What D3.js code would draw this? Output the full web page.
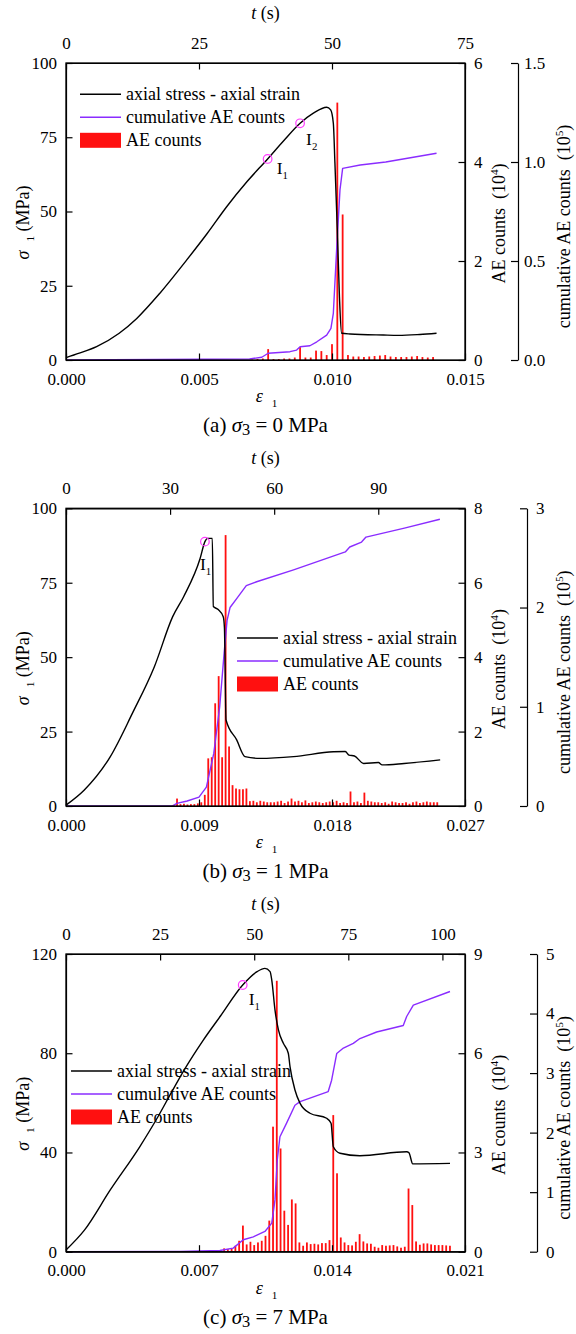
<!DOCTYPE html>
<html>
<head>
<meta charset="utf-8">
<script src="https://cdn.jsdelivr.net/npm/d3@7"></script>
<style>
body { margin: 0; background: #fff; }
svg { display: block; }
text { font-family: "Liberation Serif", "Times New Roman", serif; fill: #000; white-space: pre; }
</style>
</head>
<body>
<svg width="576" height="1334"></svg>
<script>
// ---------- (a) sigma3 = 0 MPa ----------
const strainA = [0, 0.0005, 0.00115, 0.002, 0.00266, 0.00353, 0.00454, 0.0053, 0.00604, 0.0068, 0.00758, 0.0082, 0.0088, 0.0093, 0.0098, 0.00995, 0.01005, 0.01011, 0.0102, 0.01028, 0.01036, 0.01068, 0.01193, 0.0125, 0.0133, 0.01393];
const stressA = [0.8, 2.3, 4.5, 9, 14, 22.5, 33.7, 42.5, 51.6, 60, 67.7, 74, 79.7, 83.1, 85.1, 84.2, 79.7, 66.3, 43.8, 21.3, 9, 8.75, 8.4, 8.3, 8.6, 9];
const cumStrainA = [0, 0.0069, 0.00736, 0.0076, 0.00842, 0.00867, 0.0088, 0.00917, 0.00943, 0.0098, 0.00996, 0.01005, 0.01018, 0.0103, 0.0104, 0.01106, 0.01202, 0.01393];
const cumA = [0, 0.005, 0.014, 0.034, 0.042, 0.05, 0.067, 0.072, 0.092, 0.126, 0.16, 0.236, 0.572, 0.859, 0.968, 0.985, 1.0, 1.044];
const aeTimeA = [35, 36, 37, 38, 39, 40, 41, 42, 43, 44, 45, 46, 47, 48, 49, 50, 51, 52, 53, 54, 55, 56, 57, 58, 59, 60, 61, 62, 63, 64, 65, 66, 67, 68, 69];
const aeCountA = [0.01, 0.02, 0.03, 0.22, 0.02, 0.02, 0.03, 0.03, 0.05, 0.26, 0.05, 0.05, 0.19, 0.18, 0.1, 0.32, 5.2, 2.94, 0.1, 0.07, 0.07, 0.06, 0.07, 0.08, 0.09, 0.1, 0.07, 0.06, 0.06, 0.06, 0.07, 0.08, 0.06, 0.05, 0.06];
const markStrainA = [0.00758, 0.0088];
const markStressA = [67.7, 79.7];
const markNameA = ["1", "2"];

// ---------- (b) sigma3 = 1 MPa ----------
const strainB = [0, 0.00124, 0.003, 0.00449, 0.00598, 0.00722, 0.00796, 0.00908, 0.0094, 0.00958, 0.0099, 0.00997, 0.0103, 0.01064, 0.01072, 0.01083, 0.01155, 0.01211, 0.01313, 0.0154, 0.01809, 0.0189, 0.01915, 0.01952, 0.02014, 0.02114, 0.02139, 0.02288, 0.02532];
const stressB = [0.3, 5.4, 16.6, 31.1, 46.8, 63.6, 70.3, 83.2, 88.8, 89.9, 89.9, 67, 66, 63.6, 60, 28.9, 22.2, 16.6, 16, 16.6, 18.2, 18.3, 17.1, 16.8, 14.3, 14.6, 13.8, 14.3, 15.5];
const cumStrainB = [0, 0.0072, 0.0075, 0.0082, 0.009, 0.0095, 0.01, 0.0104, 0.0107, 0.0109, 0.0111, 0.0116, 0.0122, 0.0129, 0.0154, 0.0189, 0.0192, 0.02, 0.0203, 0.0229, 0.0253];
const cumB = [0, 0, 0.027, 0.05, 0.09, 0.19, 0.53, 1.0, 1.54, 1.87, 2.0, 2.1, 2.22, 2.26, 2.38, 2.56, 2.61, 2.66, 2.71, 2.8, 2.89];
const aeTimeB = [31, 32, 33, 34, 35, 36, 37, 38, 39, 40, 41, 42, 43, 44, 45, 46, 47, 48, 49, 50, 51, 52, 53, 54, 55, 56, 57, 58, 59, 60, 61, 62, 63, 64, 65, 66, 67, 68, 69, 70, 71, 72, 73, 74, 75, 76, 77, 78, 79, 80, 81, 82, 83, 84, 85, 86, 87, 88, 89, 90, 91, 92, 93, 94, 95, 96, 97, 98, 99, 100, 101, 102, 103, 104, 105, 106, 107];
const aeCountB = [0.03, 0.2, 0.05, 0.06, 0.04, 0.05, 0.05, 0.07, 0.1, 0.3, 1.28, 1.31, 2.76, 3.49, 1.31, 7.28, 1.6, 0.56, 0.47, 0.45, 0.45, 0.47, 0.13, 0.14, 0.1, 0.14, 0.12, 0.1, 0.1, 0.1, 0.12, 0.14, 0.08, 0.12, 0.2, 0.12, 0.14, 0.1, 0.15, 0.08, 0.1, 0.12, 0.1, 0.08, 0.1, 0.12, 0.1, 0.14, 0.08, 0.1, 0.08, 0.39, 0.1, 0.12, 0.08, 0.36, 0.14, 0.12, 0.1, 0.1, 0.08, 0.1, 0.06, 0.12, 0.1, 0.08, 0.08, 0.1, 0.06, 0.1, 0.12, 0.08, 0.1, 0.12, 0.1, 0.1, 0.1];
const markStrainB = [0.0094];
const markStressB = [88.8];
const markNameB = ["1"];

// ---------- (c) sigma3 = 7 MPa ----------
const strainC = [0, 0.00097, 0.00233, 0.00388, 0.00484, 0.00552, 0.0062, 0.0072, 0.00813, 0.0093, 0.01006, 0.01047, 0.01074, 0.01083, 0.011, 0.01118, 0.01144, 0.0117, 0.01179, 0.01205, 0.01232, 0.01284, 0.01372, 0.01395, 0.01407, 0.01442, 0.01547, 0.01793, 0.01805, 0.01825, 0.02021];
const stressC = [0.7, 8.7, 24.9, 42.3, 54.4, 63.8, 73, 85, 95, 107.5, 112.9, 114.2, 112.9, 109.5, 97.4, 89.4, 84, 80, 74.6, 65.2, 59.8, 55.8, 53.8, 51.8, 42.3, 39.7, 38.7, 40.3, 39.9, 35.4, 35.6];
const cumStrainC = [0, 0.006, 0.0081, 0.0088, 0.00933, 0.00986, 0.01047, 0.01083, 0.011, 0.01112, 0.01126, 0.01161, 0.01205, 0.01232, 0.0138, 0.01398, 0.01425, 0.0146, 0.01512, 0.01547, 0.01635, 0.01775, 0.01793, 0.01828, 0.02021];
const cumC = [0, 0.005, 0.02, 0.06, 0.2, 0.25, 0.34, 0.48, 0.87, 1.54, 1.93, 2.16, 2.46, 2.52, 2.69, 2.88, 3.33, 3.42, 3.5, 3.58, 3.69, 3.8, 3.95, 4.14, 4.37];
const aeTimeC = [38, 39, 40, 41, 42, 43, 44, 45, 46, 47, 48, 49, 50, 51, 52, 53, 54, 55, 56, 57, 58, 59, 60, 61, 62, 63, 64, 65, 66, 67, 68, 69, 70, 71, 72, 73, 74, 75, 76, 77, 78, 79, 80, 81, 82, 83, 84, 85, 86, 87, 88, 89, 90, 91, 92, 93, 94, 95, 96, 97, 98, 99, 100, 101, 102];
const aeCountC = [0.02, 0.03, 0.04, 0.05, 0.1, 0.08, 0.1, 0.18, 0.33, 0.79, 0.22, 0.3, 0.2, 0.28, 0.33, 0.48, 0.94, 3.78, 8.19, 3.12, 1.24, 0.81, 1.58, 1.46, 0.28, 0.18, 0.28, 0.23, 0.24, 0.22, 0.26, 0.26, 0.35, 4.13, 2.37, 0.43, 0.28, 0.2, 0.19, 0.3, 0.53, 0.31, 0.25, 0.24, 0.15, 0.12, 0.2, 0.18, 0.19, 0.2, 0.16, 0.12, 0.15, 1.91, 1.41, 0.31, 0.21, 0.25, 0.25, 0.22, 0.2, 0.2, 0.2, 0.19, 0.18];
const markStrainC = [0.0093];
const markStressC = [107.5];
const markNameC = ["1"];

// axis ticks
const strainTicksA = [0, 0.005, 0.010, 0.015], timeTicksA = [0, 25, 50, 75];
const stressTicksA = [0, 25, 50, 75, 100], aeTicksA = [0, 2, 4, 6], cumTicksA = [0, 0.5, 1.0, 1.5];
const strainTicksB = [0, 0.009, 0.018, 0.027], timeTicksB = [0, 30, 60, 90];
const stressTicksB = [0, 25, 50, 75, 100], aeTicksB = [0, 2, 4, 6, 8], cumTicksB = [0, 1, 2, 3];
const strainTicksC = [0, 0.007, 0.014, 0.021], timeTicksC = [0, 25, 50, 75, 100];
const stressTicksC = [0, 40, 80, 120], aeTicksC = [0, 3, 6, 9], cumTicksC = [0, 1, 2, 3, 4, 5];

const svg = d3.select("svg");
const plotL = 66, plotR = 465;
const RED = "#ff1010", PURPLE = "#8a2cff", PINK = "#ff3cff";

function rich(g, x, y, parts, size, anchor, rotate) {
  const t = g.append("text").attr("x", x).attr("y", y)
    .attr("font-size", size).attr("text-anchor", anchor || "start");
  if (rotate) t.attr("transform", `rotate(-90,${x},${y})`);
  let shift = 0;
  parts.forEach(p => {
    const target = p.sub ? (p.sub === "low" ? 0.15 : 0.28) * size : p.sup ? -0.4 * size : 0;
    const ts = t.append("tspan").attr("dy", target - shift).text(p.t);
    shift = target;
    if (p.sub || p.sup) ts.attr("font-size", size * (p.sub === "low" ? 0.78 : 0.62));
    if (p.i) ts.attr("font-style", "italic");
  });
  return t;
}

function styleAxis(g) {
  g.attr("font-family", null).attr("font-size", null);
  g.selectAll("text").attr("font-size", 17).attr("fill", "#000");
  g.selectAll("line,path").attr("stroke", "#000").attr("stroke-width", 1.2);
}

function drawPanel(p) {
  const g = svg.append("g");
  const x = d3.scaleLinear().domain([0, p.xMax]).range([plotL, plotR]);
  const t = d3.scaleLinear().domain([0, p.tMax]).range([plotL, plotR]);
  const y = d3.scaleLinear().domain([0, p.yMax]).range([p.bottom, p.top]);
  const yAE = d3.scaleLinear().domain([0, p.aeMax]).range([p.bottom, p.top]);
  const yCum = d3.scaleLinear().domain([0, p.cumMax]).range([p.bottom, p.top]);

  // AE count bars (1 s bins on the time axis)
  g.selectAll(".bar").data(p.aeT).enter().append("rect")
    .attr("x", (d) => t(d) - 0.9)
    .attr("width", 1.8)
    .attr("y", (d, i) => yAE(p.aeV[i]))
    .attr("height", (d, i) => p.bottom - yAE(p.aeV[i]))
    .attr("fill", RED);

  // cumulative AE counts
  g.append("path").datum(p.cumX)
    .attr("fill", "none").attr("stroke", PURPLE).attr("stroke-width", 1.4)
    .attr("stroke-linejoin", "round")
    .attr("d", d3.line().x(d => x(d)).y((d, i) => yCum(p.cumV[i])));

  // stress-strain
  g.append("path").datum(p.sX)
    .attr("fill", "none").attr("stroke", "#000").attr("stroke-width", 1.4)
    .attr("stroke-linejoin", "round")
    .attr("d", d3.line().curve(d3.curveMonotoneX).x(d => x(d)).y((d, i) => y(p.sV[i])));

  // markers I1, I2
  p.mX.forEach((m, i) => {
    g.append("circle").attr("cx", x(m)).attr("cy", y(p.mY[i])).attr("r", 4.3)
      .attr("fill", "none").attr("stroke", PINK).attr("stroke-width", 1.2);
    rich(g, x(m) + p.mdx[i], y(p.mY[i]) + p.mdy[i], [{ t: "I" }, { t: p.mN[i], sub: true }], 17.5);
  });

  // legend
  const lx = p.lx, ly = p.ly;
  g.append("line").attr("x1", lx).attr("x2", lx + 41).attr("y1", ly).attr("y2", ly)
    .attr("stroke", "#000").attr("stroke-width", 1.4);
  g.append("line").attr("x1", lx).attr("x2", lx + 41).attr("y1", ly + 23).attr("y2", ly + 23)
    .attr("stroke", PURPLE).attr("stroke-width", 1.4);
  g.append("rect").attr("x", lx).attr("y", ly + 38.5).attr("width", 41).attr("height", 15)
    .attr("fill", RED);
  ["axial stress - axial strain", "cumulative AE counts", "AE counts"].forEach((s, i) => {
    g.append("text").attr("x", lx + 46).attr("y", ly + 6 + 23 * i).attr("font-size", 18).text(s);
  });

  // axes
  g.append("g").attr("transform", `translate(0,${p.bottom})`)
    .call(d3.axisBottom(x).tickValues(p.xTicks).tickFormat(d3.format(".3f"))
      .tickSizeInner(-6.5).tickSizeOuter(0).tickPadding(12.5)).call(styleAxis);
  g.append("g").attr("transform", `translate(0,${p.top})`)
    .call(d3.axisTop(t).tickValues(p.tTicks).tickFormat(d3.format("d"))
      .tickSizeInner(-6.5).tickSizeOuter(0).tickPadding(14)).call(styleAxis);
  g.append("g").attr("transform", `translate(${plotL},0)`)
    .call(d3.axisLeft(y).tickValues(p.yTicks).tickFormat(d3.format("d"))
      .tickSizeInner(-6.5).tickSizeOuter(0).tickPadding(9)).call(styleAxis);
  g.append("g").attr("transform", `translate(${plotR},0)`)
    .call(d3.axisRight(yAE).tickValues(p.aeTicks).tickFormat(d3.format("d"))
      .tickSizeInner(-6.5).tickSizeOuter(0).tickPadding(9)).call(styleAxis);
  g.append("g").attr("transform", `translate(${p.cumAxis},0)`)
    .call(d3.axisRight(yCum).tickValues(p.cumTicks).tickFormat(p.cumFmt)
      .tickSizeInner(-7).tickSizeOuter(0).tickPadding(p.cumPad)).call(styleAxis);
  g.append("rect").attr("x", plotL).attr("y", p.top)
    .attr("width", plotR - plotL).attr("height", p.bottom - p.top)
    .attr("fill", "none").attr("stroke", "#000").attr("stroke-width", 1.3);

  // titles
  const midX = (plotL + plotR) / 2, midY = (p.top + p.bottom) / 2;
  rich(g, midX, p.top - 44, [{ t: "t", i: true }, { t: " (s)" }], 18, "middle");
  rich(g, midX + 1, p.bottom + 42, [{ t: "ε", i: true }, { t: "  " }, { t: "1", sub: true }], 18, "middle");
  rich(g, 29, midY + 11, [{ t: "σ", i: true }, { t: "  " }, { t: "1", sub: true }, { t: " (MPa)" }], 18, "middle", true);
  rich(g, 505, midY + 12, [{ t: "AE counts  (10" }, { t: "4", sup: true }, { t: ")" }], 18, "middle", true);
  rich(g, 570, midY + 15, [{ t: "cumulative AE counts  (10" }, { t: "5", sup: true }, { t: ")" }], 18, "middle", true);
  rich(g, midX, p.bottom + 72, [{ t: p.tag + " " }, { t: "σ", i: true }, { t: "3", sub: "low" }, { t: " = " + p.s3 + " MPa" }], 21, "middle");
}

drawPanel({
  top: 63, bottom: 360, xMax: 0.015, tMax: 75, yMax: 100, aeMax: 6, cumMax: 1.5,
  xTicks: strainTicksA, tTicks: timeTicksA, yTicks: stressTicksA, aeTicks: aeTicksA, cumTicks: cumTicksA,
  cumFmt: d3.format(".1f"), cumAxis: 518, cumPad: 6,
  sX: strainA, sV: stressA, cumX: cumStrainA, cumV: cumA, aeT: aeTimeA, aeV: aeCountA,
  mX: markStrainA, mY: markStressA, mN: markNameA, mdx: [9, 6], mdy: [15, 22],
  lx: 80, ly: 94.3, tag: "(a)", s3: "0"
});
drawPanel({
  top: 508.3, bottom: 806, xMax: 0.027, tMax: 115, yMax: 100, aeMax: 8, cumMax: 3,
  xTicks: strainTicksB, tTicks: timeTicksB, yTicks: stressTicksB, aeTicks: aeTicksB, cumTicks: cumTicksB,
  cumFmt: d3.format("d"), cumAxis: 527, cumPad: 9,
  sX: strainB, sV: stressB, cumX: cumStrainB, cumV: cumB, aeT: aeTimeB, aeV: aeCountB,
  mX: markStrainB, mY: markStressB, mN: markNameB, mdx: [-5], mdy: [28],
  lx: 237, ly: 638, tag: "(b)", s3: "1"
});
drawPanel({
  top: 954, bottom: 1251.7, xMax: 0.021, tMax: 106, yMax: 120, aeMax: 9, cumMax: 5,
  xTicks: strainTicksC, tTicks: timeTicksC, yTicks: stressTicksC, aeTicks: aeTicksC, cumTicks: cumTicksC,
  cumFmt: d3.format("d"), cumAxis: 537, cumPad: 9,
  sX: strainC, sV: stressC, cumX: cumStrainC, cumV: cumC, aeT: aeTimeC, aeV: aeCountC,
  mX: markStrainC, mY: markStressC, mN: markNameC, mdx: [6], mdy: [20],
  lx: 71, ly: 1071, tag: "(c)", s3: "7"
});
</script>
</body>
</html>
